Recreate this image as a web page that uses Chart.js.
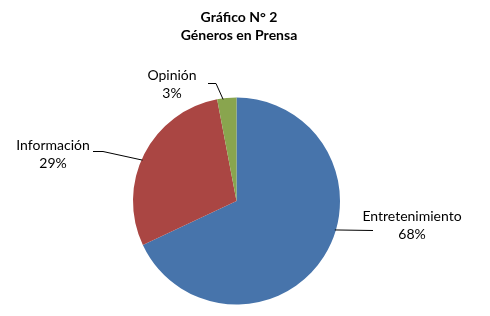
<!DOCTYPE html>
<html>
<head>
<meta charset="utf-8">
<script src="https://cdn.jsdelivr.net/npm/chart.js@4"></script>
<style>
  html, body { margin: 0; padding: 0; background: #fff; }
  #wrap { width: 490px; height: 316px; position: relative; }
</style>
</head>
<body>
<div id="wrap"><canvas id="pie-chart"></canvas></div>
<script>
// Data
const categories = ['Entretenimiento', 'Información', 'Opinión'];
const shares = [68, 29, 3];
const titleLines = ['Gráfico N° 2', 'Géneros en Prensa'];

const COLORS = ['#4774ab', '#aa4643', '#89a54e'];

// label placement: text centre, elbow of the leader line, angle on the rim (deg)
const LABELS = [
  { x: 412, y: 216, elbow: [373, 230], start: [373, 230], rim: 16.4 },
  { x: 53, y: 145, elbow: [103, 151], start: [93, 151], rim: 203.5 },
  { x: 172, y: 75, elbow: [216, 83], start: [208, 83], rim: 262.5 }
];

const FONT = '14px Lato, "Open Sans", sans-serif';

const labelPlugin = {
  id: 'pieLabels',
  afterDraw(chart) {
    const ctx = chart.ctx;
    const arc = chart.getDatasetMeta(0).data[0];
    const cx = arc.x, cy = arc.y, r = arc.outerRadius;

    ctx.save();
    // title
    ctx.fillStyle = '#000';
    ctx.textAlign = 'center';
    ctx.textBaseline = 'middle';
    ctx.font = 'bold 14px Lato, "Open Sans", sans-serif';
    ctx.fillText(titleLines[0], 239, 17);
    ctx.fillText(titleLines[1], 239, 35);

    // data labels with leader lines
    ctx.font = FONT;
    ctx.strokeStyle = '#000';
    ctx.lineWidth = 1;
    LABELS.forEach(function(l, i) {
      const a = l.rim * Math.PI / 180;
      const ex = cx + (r - 1) * Math.cos(a);
      const ey = cy + (r - 1) * Math.sin(a);
      ctx.beginPath();
      ctx.moveTo(l.start[0], l.start[1] + 0.5);
      ctx.lineTo(l.elbow[0], l.elbow[1] + 0.5);
      ctx.lineTo(ex, ey);
      ctx.stroke();

      ctx.fillText(categories[i], l.x, l.y);
      ctx.fillText(shares[i] + '%', l.x, l.y + 18);
    });
    ctx.restore();
  }
};

new Chart(document.getElementById('pie-chart'), {
  type: 'pie',
  data: {
    labels: categories,
    datasets: [{
      data: shares,
      backgroundColor: COLORS,
      borderWidth: 0
    }]
  },
  options: {
    responsive: true,
    maintainAspectRatio: false,
    animation: false,
    layout: { padding: { left: 133, right: 150, top: 97.5, bottom: 11.5 } },
    plugins: {
      legend: { display: false },
      tooltip: { enabled: false }
    }
  },
  plugins: [labelPlugin]
});
</script>
</body>
</html>
